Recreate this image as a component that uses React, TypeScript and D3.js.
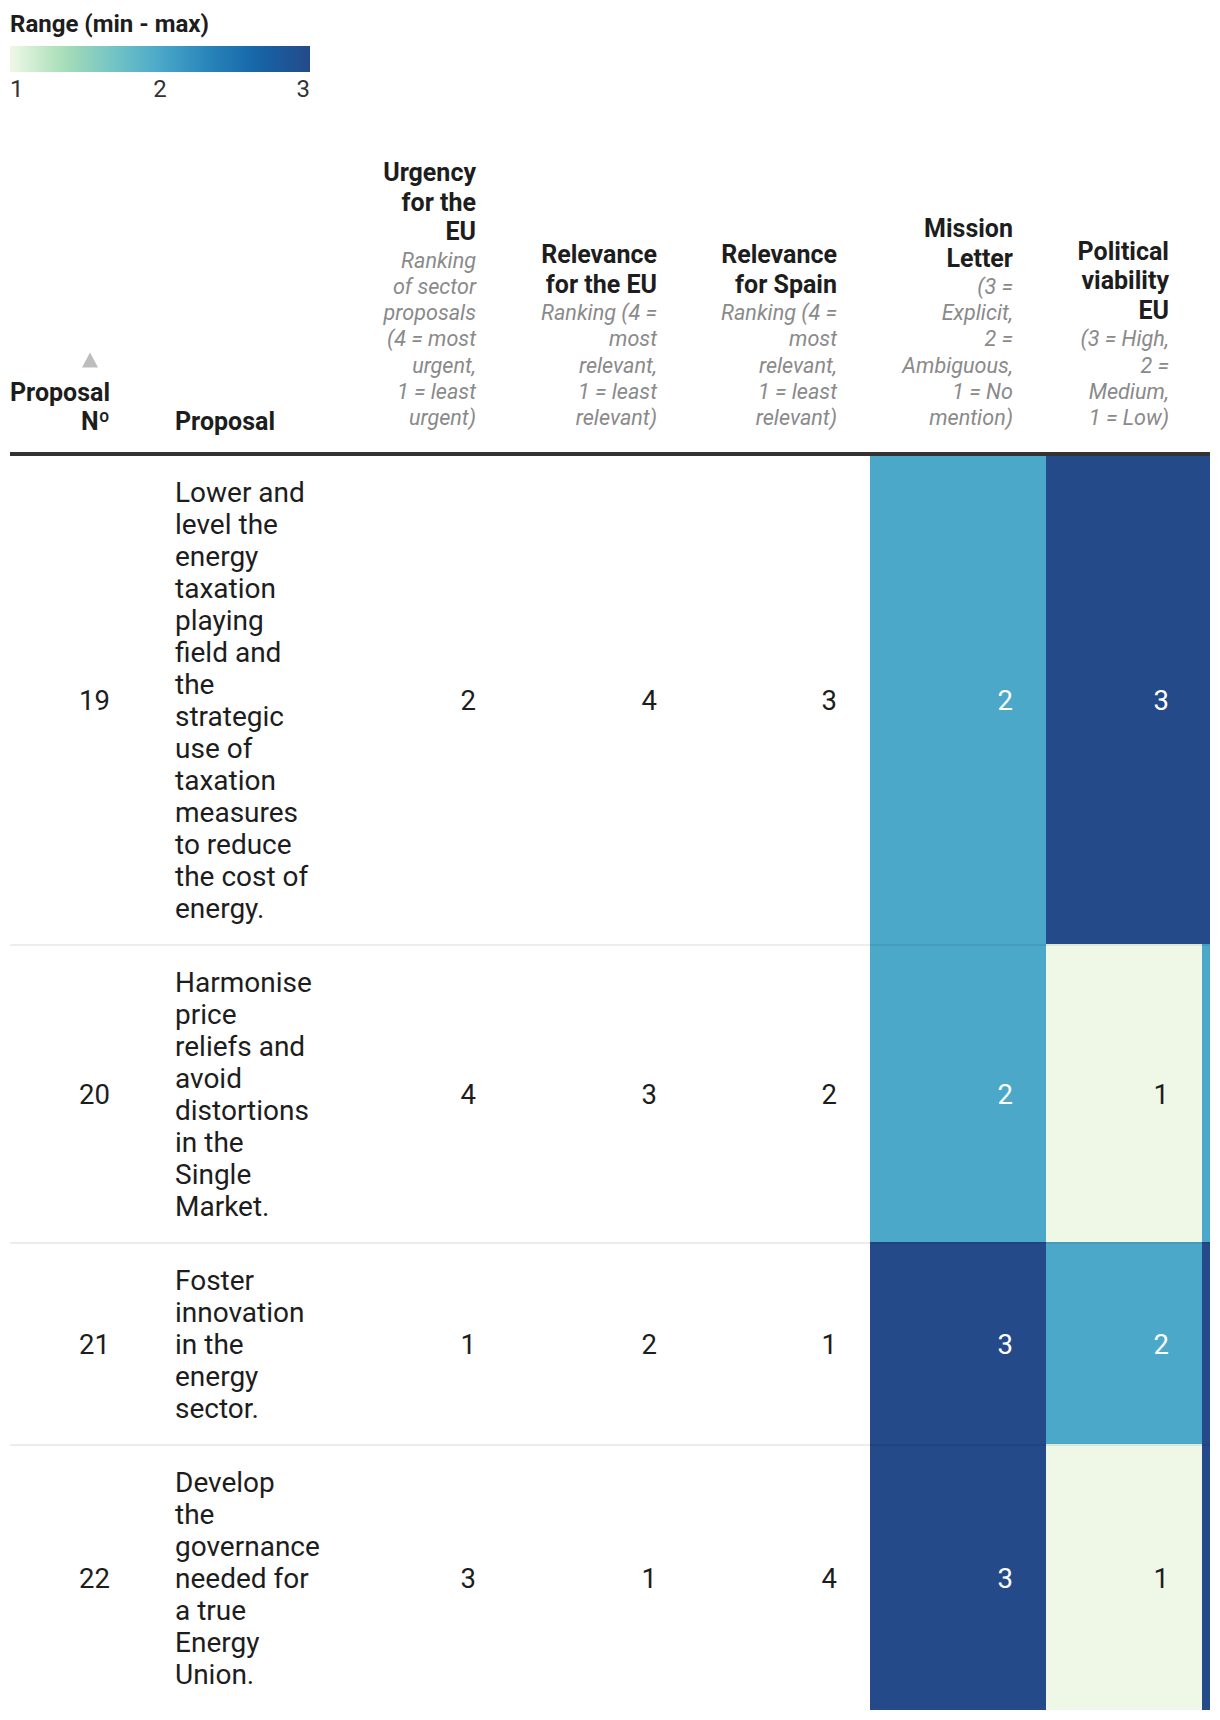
import React from "react";
import * as d3 from "d3";

// ---------- data ----------
const proposalNo = [19, 20, 21, 22];
const proposalLines = [
  ["Lower and", "level the", "energy", "taxation", "playing", "field and", "the", "strategic", "use of", "taxation", "measures", "to reduce", "the cost of", "energy."],
  ["Harmonise", "price", "reliefs and", "avoid", "distortions", "in the", "Single", "Market."],
  ["Foster", "innovation", "in the", "energy", "sector."],
  ["Develop", "the", "governance", "needed for", "a true", "Energy", "Union."],
];
const urgencyEU = [2, 4, 1, 3];
const relevanceEU = [4, 3, 2, 1];
const relevanceSpain = [3, 2, 1, 4];
const missionLetter = [2, 2, 3, 3];
const politicalViability = [3, 1, 2, 1];
const hiddenColumn = [3, 2, 3, 3];

const legendTitle = "Range (min - max)";
const legendTicks = [1, 2, 3];

const headerProposalNo = ["Proposal", "Nº"];
const headerProposal = "Proposal";
const numericHeaders = [
  { bold: ["Urgency", "for the", "EU"], italic: ["Ranking", "of sector", "proposals", "(4 = most", "urgent,", "1 = least", "urgent)"] },
  { bold: ["Relevance", "for the EU"], italic: ["Ranking (4 =", "most", "relevant,", "1 = least", "relevant)"] },
  { bold: ["Relevance", "for Spain"], italic: ["Ranking (4 =", "most", "relevant,", "1 = least", "relevant)"] },
  { bold: ["Mission", "Letter"], italic: ["(3 =", "Explicit,", "2 =", "Ambiguous,", "1 = No", "mention)"] },
  { bold: ["Political", "viability", "EU"], italic: ["(3 = High,", "2 =", "Medium,", "1 = Low)"] },
];

// ---------- layout ----------
const W = 1220;
const H = 1720;
const FONT = "Roboto, 'Noto Sans', sans-serif";
const TABLE_L = 10;
const TABLE_R = 1210;
const HEADER_LINE_Y = 452;
const BODY_TOP = 456;
const LINE_H = 32;
const ROW_PAD = 20;
const SEP = 2;

// column boundaries (left edges) for numeric columns
const colEdges = [330, 509, 690, 870, 1046, 1202, 1380];
const colPadR = 34;

const colorScale = d3
  .scaleLinear<string>()
  .domain([1, 1.35, 1.7, 2, 2.3, 2.65, 3])
  .range(["#eff8e7", "#a9deb7", "#72c3c5", "#4ba8c9", "#2a87bb", "#1565a7", "#244a8a"])
  .interpolate(d3.interpolateRgb);

const legendX = d3.scaleLinear().domain([1, 3]).range([10, 310]);

export default function App() {
  const columns = [urgencyEU, relevanceEU, relevanceSpain, missionLetter, politicalViability, hiddenColumn];
  const coloredCols = new Set([3, 4, 5]);

  const rows: { y0: number; h: number }[] = [];
  let y = BODY_TOP;
  proposalLines.forEach((lines, i) => {
    const h = lines.length * LINE_H + ROW_PAD * 2;
    rows.push({ y0: y, h });
    y += h + (i < proposalLines.length - 1 ? SEP : 0);
  });

  const gradStops = d3.range(0, 1.0001, 0.05).map((t) => ({ t, c: colorScale(1 + 2 * t) }));

  const italicLastBaseline = 425;
  const italicStep = 26.2;
  const boldStep = 29.5;
  const boldToItalic = 27.5;

  return (
    <svg width={W} height={H} style={{ position: "absolute", left: 0, top: 0, background: "#fff" }} fontFamily={FONT}>
      <defs>
        <linearGradient id="lg" x1="0" x2="1" y1="0" y2="0">
          {gradStops.map((s, i) => (
            <stop key={i} offset={s.t} stopColor={s.c} />
          ))}
        </linearGradient>
        <clipPath id="tableClip">
          <rect x={0} y={0} width={TABLE_R} height={H} />
        </clipPath>
      </defs>

      {/* Legend */}
      <text x={10} y={32} fontSize={24} fontWeight={700} fill="#1d1d1d">{legendTitle}</text>
      <rect x={legendX(1)} y={46} width={legendX(3) - legendX(1)} height={26} fill="url(#lg)" />
      {legendTicks.map((t, i) => (
        <text
          key={t}
          x={legendX(t)}
          y={96.5}
          fontSize={24}
          fill="#333"
          textAnchor={i === 0 ? "start" : i === legendTicks.length - 1 ? "end" : "middle"}
        >
          {t}
        </text>
      ))}

      {/* Header */}
      <path d="M90,352.5 L98,367.5 L82,367.5 Z" fill="#bdbdbd" />
      {headerProposalNo.map((t, i) => (
        <text key={t} x={110} y={400.5 + i * 29.5} fontSize={25} fontWeight={700} fill="#1d1d1d" textAnchor="end">{t}</text>
      ))}
      <text x={175} y={430} fontSize={25} fontWeight={700} fill="#1d1d1d">{headerProposal}</text>
      {numericHeaders.map((hd, ci) => {
        const xr = colEdges[ci + 1] - colPadR + 1;
        const nI = hd.italic.length;
        const firstItalic = italicLastBaseline - (nI - 1) * italicStep;
        const lastBold = firstItalic - boldToItalic;
        const nB = hd.bold.length;
        return (
          <g key={ci}>
            {hd.bold.map((t, k) => (
              <text key={"b" + k} x={xr} y={lastBold - (nB - 1 - k) * boldStep} fontSize={25} fontWeight={700} fill="#1d1d1d" textAnchor="end">{t}</text>
            ))}
            {hd.italic.map((t, k) => (
              <text key={"i" + k} x={xr} y={firstItalic + k * italicStep} fontSize={21.6} fontStyle="italic" fill="#8a8a8a" textAnchor="end">{t}</text>
            ))}
          </g>
        );
      })}

      {/* Body */}
      <g clipPath="url(#tableClip)">
        {rows.map((r, ri) => (
          <g key={ri}>
            {columns.map((col, ci) =>
              coloredCols.has(ci) ? (
                <rect key={ci} x={colEdges[ci]} y={r.y0 - (ri > 0 ? SEP : 0)} width={colEdges[ci + 1] - colEdges[ci]} height={r.h + (ri > 0 ? SEP : 0)} fill={colorScale(col[ri])} />
              ) : null
            )}
          </g>
        ))}
        {rows.map((r, ri) => {
          const cy = r.y0 + r.h / 2;
          return (
            <g key={"t" + ri}>
              <text x={110} y={cy + 10} fontSize={27.5} fill="#1d1d1d" textAnchor="end">{proposalNo[ri]}</text>
              {proposalLines[ri].map((ln, k) => (
                <text key={k} x={175} y={r.y0 + ROW_PAD + 26 + k * LINE_H} fontSize={28} fill="#1d1d1d">{ln}</text>
              ))}
              {columns.slice(0, 5).map((col, ci) => (
                <text
                  key={ci}
                  x={colEdges[ci + 1] - colPadR + 1}
                  y={cy + 10}
                  fontSize={27.5}
                  textAnchor="end"
                  fill={coloredCols.has(ci) && col[ri] >= 2 ? "#ffffff" : "#1d1d1d"}
                >
                  {col[ri]}
                </text>
              ))}
            </g>
          );
        })}
        {rows.slice(1).map((r, ri) => (
          <rect key={"s" + ri} x={TABLE_L} y={r.y0 - SEP} width={TABLE_R - TABLE_L} height={SEP} fill="rgba(0,0,0,0.07)" />
        ))}
      </g>
      <rect x={TABLE_L} y={HEADER_LINE_Y} width={TABLE_R - TABLE_L} height={4} fill="#333" />
    </svg>
  );
}
